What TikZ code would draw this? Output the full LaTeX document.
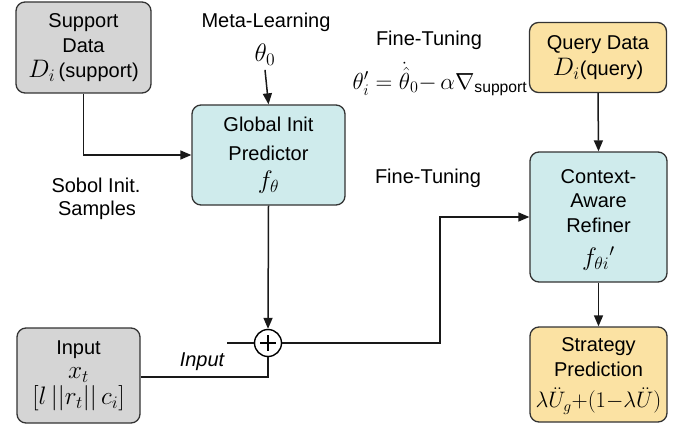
\documentclass[tikz,border=0pt]{standalone}
\usepackage{graphicx}
\usepackage{fontspec}
\setmainfont{Liberation Sans}
\setsansfont{Liberation Sans}
\usetikzlibrary{arrows.meta,calc}
\definecolor{boxgray}{HTML}{D5D5D5}
\definecolor{boxcyan}{HTML}{CFEBEC}
\definecolor{boxyellow}{HTML}{FBE2A3}
\definecolor{edge}{HTML}{333333}
\newcommand\mth[2][1.22]{\scalebox{#1}{$#2$}}
\tikzset{
  box/.style={draw=edge, line width=1.3pt, rounded corners=9pt, align=center, inner sep=0pt},
  graybox/.style={box, fill=boxgray},
  cyanbox/.style={box, fill=boxcyan},
  yellowbox/.style={box, fill=boxyellow},
  conn/.style={line width=1.5pt, draw=black!90},
  arr/.style={conn, -{Triangle[length=11pt,width=9pt]}},
  lbl/.style={font=\fontsize{20}{24}\selectfont, inner sep=0pt, align=center},
}
\begin{document}
\begin{tikzpicture}[x=1pt,y=-1pt, every node/.append style={font=\fontsize{20}{27}\selectfont}]
\useasboundingbox (0,0) rectangle (690,425);
% boxes
\node[graybox, minimum width=135pt, minimum height=91pt] (support) at (83.5,47.5)
  {Support\\[-2pt] Data\\[-2pt] \mth{D_i}\,(support)};
\node[cyanbox, minimum width=153pt, minimum height=100pt] (global) at (268.5,155)
  {Global Init\\[2pt] Predictor\\[1pt] \mth{f_{\theta}}};
\node[yellowbox, minimum width=137pt, minimum height=70pt] (query) at (598,57.5)
  {Query Data\\[-1pt] \mth{D_i}(query)};
\node[cyanbox, minimum width=137pt, minimum height=130pt] (context) at (598.5,217)
  {\rule{0pt}{20pt}Context-\\[-3pt] Aware\\[-2pt] Refiner\\[6pt] \mth{f_{\theta i}{}'}};
\node[yellowbox, minimum width=137pt, minimum height=95pt] (strategy) at (598.5,374.5)
  {\rule{0pt}{17pt}Strategy\\[-2pt] Prediction\\[4pt] \mth[1.08]{\lambda\ddot{U}_g{+}(1{-}\lambda\ddot{U})}};
\node[graybox, minimum width=123pt, minimum height=95pt] (input) at (78.5,375.5)
  {Input\\[-3pt] \mth{x_t}\\[-1pt] \mth{[l\,||r_t||\,c_i]}};
% sum junction
\node[draw=black, line width=1.4pt, circle, minimum size=27pt, inner sep=0pt] (sum) at (268,343) {};
\draw[line width=1.4pt] ($(sum.center)+(-8,0)$) -- ($(sum.center)+(8,0)$);
\draw[line width=1.4pt] ($(sum.center)+(0,-8)$) -- ($(sum.center)+(0,8)$);
% labels
\node[lbl] (meta) at (266,22) {Meta-Learning};
\node[lbl] (theta) at (265,55) {\mth{\theta_0}};
\node[lbl] (ft1) at (429,40) {Fine-Tuning};
\node[lbl] (formula) at (440,79) {\mth[1.12]{\theta'_i=\dot{\hat{\theta}}_0{-}\,\alpha\nabla_{\mathsf{support}}}};
\node[lbl] (ft2) at (428,178) {Fine-Tuning};
\node[lbl] (sobol) at (96,185) {Sobol Init.};
\node[lbl] (samples) at (97,210) {Samples};
\node[lbl, font=\fontsize{20}{24}\selectfont\itshape] (inlbl) at (202,362) {Input};
% coordinates
\coordinate (stub) at (227,343);
\coordinate (bend) at (440,343);
% connectors
\draw[arr] (support.south) |- (global.west);
\draw[arr] ($(theta.south)+(0,4)$) -- (global.north);
\draw[arr] (global.south) -- (sum.north);
\draw[conn] (input.east |- 0,377) -| (sum.south);
\draw[conn] (stub) -- (sum.west);
\draw[arr] (sum.east) -- (bend) |- (context.west);
\draw[arr] (query.south) -- (context.north);
\draw[arr] (context.south) -- (strategy.north);
\end{tikzpicture}
\end{document}
